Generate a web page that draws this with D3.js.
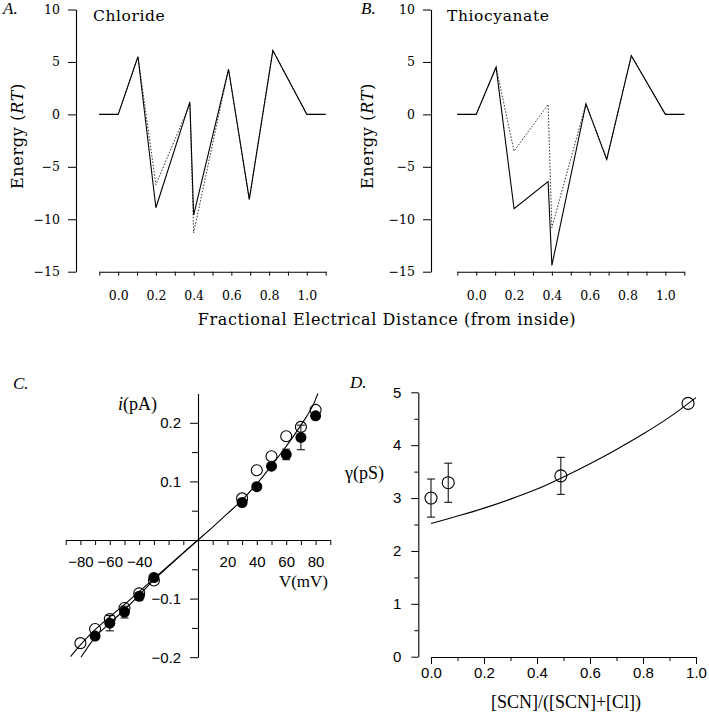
<!DOCTYPE html>
<html><head><meta charset="utf-8">
<script src="https://cdn.jsdelivr.net/npm/d3@7"></script>
<style>body{margin:0;background:#fff}svg{display:block}</style>
</head><body>
<svg id="c" width="709" height="720"></svg>
<script>
// ---------- Data ----------
const distTicks = [-0.1,0,0.1,0.2,0.3,0.4,0.5,0.6,0.7,0.8,0.9,1.0,1.1];
const energyTicks = [10,5,0,-5,-10,-15];
const chlorideX = [-0.1,0,0.105,0.2,0.38,0.4,0.585,0.695,0.82,1.0,1.1];
const chlorideSolid = [0,0,5.5,-8.9,1.2,-9.6,4.3,-8.1,6.1,0,0];
const chlorideDotted = [0,0,5.5,-6.7,1.0,-11.3,4.3,-8.1,6.1,0,0];
const thioX = [-0.1,0,0.105,0.2,0.38,0.4,0.58,0.69,0.82,1.0,1.1];
const thioSolid = [0,0,4.5,-9.0,-6.4,-14.4,1.0,-4.3,5.6,0,0];
const thioDotted = [0,0,4.5,-3.5,0.95,-10.8,1.0,-4.3,5.6,0,0];

const ivOpenV = [-80,-70,-60,-50,-40,-30,30,40,50,60,70,80];
const ivOpenI = [-0.176,-0.152,-0.135,-0.116,-0.091,-0.069,0.071,0.119,0.143,0.177,0.193,0.222];
const ivFilledV = [-70,-60,-50,-40,-30,30,40,50,60,70,80];
const ivFilledI = [-0.164,-0.142,-0.123,-0.096,-0.064,0.064,0.091,0.126,0.146,0.175,0.212];
const ivFilledErr = [0,0.013,0.01,0.006,0,0,0,0,0.009,0.021,0];
const fitV1 = [-86.7,-80,-70,-60,-50,-40,-30,-20,-10,0,10,20,30,40,50,60,70,80,81.5];
const fitI1 = [-0.199,-0.179,-0.153,-0.131,-0.11,-0.088,-0.066,-0.044,-0.022,0,0.022,0.045,0.068,0.096,0.127,0.16,0.196,0.24,0.25];
const fitV2 = [-79.6,-70,-60,-50,-40,-30,-20,-10,0];
const fitI2 = [-0.2,-0.166,-0.142,-0.119,-0.094,-0.068,-0.045,-0.022,0];
const ivXTicks = [-90,-80,-70,-60,-50,-40,-30,-20,-10,0,10,20,30,40,50,60,70,80,90];
const ivXLabels = [-80,-60,-40,20,40,60,80];
const ivYMajor = [-0.2,-0.1,0.1,0.2];
const ivYMinor = [-0.15,-0.05,0.05,0.15];

const fracX = [0.0,0.065,0.49,0.97];
const gammaPS = [3.0,3.29,3.42,4.79];
const gammaErr = [0.36,0.37,0.35,0];
const fitFrac = [0,0.1,0.2,0.3,0.4,0.5,0.6,0.7,0.8,0.9,1.0];
const fitGamma = [2.52,2.66,2.81,2.98,3.17,3.4,3.65,3.92,4.21,4.53,4.9];
const gYMajor = [0,1,2,3,4,5];
const gYMinor = [0.5,1.5,2.5,3.5,4.5];
const gXMajor = [0,0.2,0.4,0.6,0.8,1.0];
const gXMinor = [0.1,0.3,0.5,0.7,0.9];

// ---------- Drawing ----------
const svg = d3.select("#c");
svg.append("rect").attr("width",709).attr("height",720).attr("fill","#fff");
const SERIF = "'DejaVu Serif', serif";
const TIMES = "'Liberation Serif', 'Times New Roman', serif";
const SANS = "'Liberation Sans', Arial, sans-serif";

function styleAxis(g, font, size){
  g.selectAll("path.domain").attr("stroke","#000").attr("stroke-width",1.1);
  g.selectAll(".tick line").attr("stroke","#000").attr("stroke-width",1);
  g.selectAll("text").attr("font-family",font).attr("font-size",size).attr("fill","#000");
}

// Panels A & B
const yE = d3.scaleLinear([-15,10],[271.7,9.5]);
function energyPanel(x0, xr, xs, solid, dotted, title, titleX, letter, letterX, labelX){
  const xS = d3.scaleLinear([-0.1,1.1], xr);
  const gy = svg.append("g").attr("transform",`translate(${x0},0)`)
    .call(d3.axisLeft(yE).tickValues(energyTicks).tickSize(8).tickSizeOuter(0).tickPadding(8));
  styleAxis(gy, SERIF, 12.5);
  const gx = svg.append("g").attr("transform",`translate(0,${yE(-15)})`)
    .call(d3.axisBottom(xS).tickValues(distTicks).tickSize(4).tickSizeOuter(0).tickPadding(15)
      .tickFormat(d => (Math.round(d*10)%2===0 && d>=0 && d<=1.0001) ? d3.format(".1f")(d) : ""));
  styleAxis(gx, SERIF, 12.5);
  const line = d3.line().x((d,i)=>xS(xs[i])).y(d=>yE(d));
  svg.append("path").attr("d",line(dotted)).attr("fill","none").attr("stroke","#222")
    .attr("stroke-width",0.9).attr("stroke-dasharray","1.6,1.6");
  svg.append("path").attr("d",line(solid)).attr("fill","none").attr("stroke","#000").attr("stroke-width",1.1);
  svg.append("text").attr("x",titleX).attr("y",21).attr("font-family",SERIF).attr("font-size",15.5)
    .attr("letter-spacing",0.6).text(title);
  svg.append("text").attr("x",letterX).attr("y",14).attr("font-family",TIMES).attr("font-style","italic").attr("font-size",17).text(letter);
  const t = svg.append("text").attr("transform",`translate(${labelX},136) rotate(-90)`)
    .attr("text-anchor","middle").attr("font-family",SERIF).attr("font-size",16).attr("letter-spacing",0.7);
  t.append("tspan").text("Energy (");
  t.append("tspan").attr("font-style","italic").text("RT");
  t.append("tspan").text(")");
}
energyPanel(76,[99.3,325.7],chlorideX,chlorideSolid,chlorideDotted,"Chloride",93,"A.",3,23);
energyPanel(431,[457.3,684.3],thioX,thioSolid,thioDotted,"Thiocyanate",447,"B.",361,373);
svg.append("text").attr("x",387).attr("y",325).attr("text-anchor","middle")
  .attr("font-family",SERIF).attr("font-size",16).attr("letter-spacing",0.6)
  .text("Fractional Electrical Distance (from inside)");

// Panel C
const xC = d3.scaleLinear([-90,90],[65.7,330.3]);
const yC = d3.scaleLinear([-0.2,0.25],[657.2,393.5]);
const gcx = svg.append("g").attr("transform",`translate(0,${yC(0)})`)
  .call(d3.axisBottom(xC).tickValues(ivXTicks).tickSize(5).tickSizeOuter(0).tickPadding(11)
    .tickFormat(d => ivXLabels.includes(d) ? d3.format("d")(d) : ""));
styleAxis(gcx, SANS, 15);
const gcyMinor = svg.append("g").attr("transform",`translate(${xC(0)},0)`)
  .call(d3.axisLeft(yC).tickValues(ivYMinor).tickSize(6).tickSizeOuter(0).tickFormat(""));
styleAxis(gcyMinor, SANS, 15);
const gcy = svg.append("g").attr("transform",`translate(${xC(0)},0)`)
  .call(d3.axisLeft(yC).tickValues(ivYMajor).tickSize(8).tickSizeOuter(0).tickPadding(9).tickFormat(d3.format(".1f")));
styleAxis(gcy, SANS, 15);
gcy.select("path.domain").remove();

const lineC = (vs) => d3.line().curve(d3.curveMonotoneX).x((d,i)=>xC(vs[i])).y(d=>yC(d));
svg.append("path").attr("d",lineC(fitV1)(fitI1)).attr("fill","none").attr("stroke","#000").attr("stroke-width",1.1);
svg.append("path").attr("d",lineC(fitV2)(fitI2)).attr("fill","none").attr("stroke","#000").attr("stroke-width",1.1);

const cap = 4;
ivFilledV.forEach((v,i)=>{
  const e = ivFilledErr[i]; if(!e) return;
  const x = xC(v), y1 = yC(ivFilledI[i]-e), y2 = yC(ivFilledI[i]+e);
  svg.append("path").attr("d",`M${x},${y1}V${y2}M${x-cap},${y1}H${x+cap}M${x-cap},${y2}H${x+cap}`)
    .attr("stroke","#000").attr("stroke-width",1).attr("fill","none");
});
svg.append("g").selectAll("circle").data(ivOpenV).join("circle")
  .attr("cx",d=>xC(d)).attr("cy",(d,i)=>yC(ivOpenI[i])).attr("r",5.5)
  .attr("fill","none").attr("stroke","#000").attr("stroke-width",1.1);
svg.append("g").selectAll("circle").data(ivFilledV).join("circle")
  .attr("cx",d=>xC(d)).attr("cy",(d,i)=>yC(ivFilledI[i])).attr("r",5.5).attr("fill","#000");

const ti = svg.append("text").attr("x",118).attr("y",410).attr("font-family",TIMES).attr("font-size",18);
ti.append("tspan").attr("font-style","italic").text("i");
ti.append("tspan").text("(pA)");
svg.append("text").attr("x",328).attr("y",587).attr("text-anchor","end").attr("font-family",TIMES).attr("font-size",17).text("V(mV)");
svg.append("text").attr("x",13).attr("y",389).attr("font-family",TIMES).attr("font-style","italic").attr("font-size",17).text("C.");

// Panel D
const xD = d3.scaleLinear([0,1],[431,696]);
const yD = d3.scaleLinear([0,5],[656.7,392.3]);
const gdyMinor = svg.append("g").attr("transform","translate(418.3,0)")
  .call(d3.axisLeft(yD).tickValues(gYMinor).tickSize(4).tickSizeOuter(0).tickFormat(""));
styleAxis(gdyMinor, SANS, 15);
const gdy = svg.append("g").attr("transform","translate(418.3,0)")
  .call(d3.axisLeft(yD).tickValues(gYMajor).tickSize(7).tickSizeOuter(0).tickPadding(10).tickFormat(d3.format("d")));
styleAxis(gdy, SANS, 15); gdy.select("path.domain").remove();
const gdxMinor = svg.append("g").attr("transform","translate(0,657)")
  .call(d3.axisBottom(xD).tickValues(gXMinor).tickSize(4).tickSizeOuter(0).tickFormat(""));
styleAxis(gdxMinor, SANS, 15);
const gdx = svg.append("g").attr("transform","translate(0,657)")
  .call(d3.axisBottom(xD).tickValues(gXMajor).tickSize(7).tickSizeOuter(0).tickPadding(3).tickFormat(d3.format(".1f")));
styleAxis(gdx, SANS, 15); gdx.select("path.domain").remove();

svg.append("path").attr("d",d3.line().curve(d3.curveMonotoneX).x((d,i)=>xD(fitFrac[i])).y(d=>yD(d))(fitGamma))
  .attr("fill","none").attr("stroke","#000").attr("stroke-width",1.1);
fracX.forEach((f,i)=>{
  const e = gammaErr[i]; if(!e) return;
  const x = xD(f), y1 = yD(gammaPS[i]-e), y2 = yD(gammaPS[i]+e);
  svg.append("path").attr("d",`M${x},${y1}V${y2}M${x-cap},${y1}H${x+cap}M${x-cap},${y2}H${x+cap}`)
    .attr("stroke","#000").attr("stroke-width",1).attr("fill","none");
});
svg.append("g").selectAll("circle").data(fracX).join("circle")
  .attr("cx",d=>xD(d)).attr("cy",(d,i)=>yD(gammaPS[i])).attr("r",6)
  .attr("fill","#fff").attr("fill-opacity",0).attr("stroke","#000").attr("stroke-width",1.1);
svg.append("text").attr("x",345).attr("y",479).attr("font-family",TIMES).attr("font-size",18).text("γ(pS)");
svg.append("text").attr("x",566).attr("y",708).attr("text-anchor","middle").attr("font-family",TIMES).attr("font-size",18).text("[SCN]/([SCN]+[Cl])");
svg.append("text").attr("x",350).attr("y",388).attr("font-family",TIMES).attr("font-style","italic").attr("font-size",17).text("D.");
</script>
</body></html>
